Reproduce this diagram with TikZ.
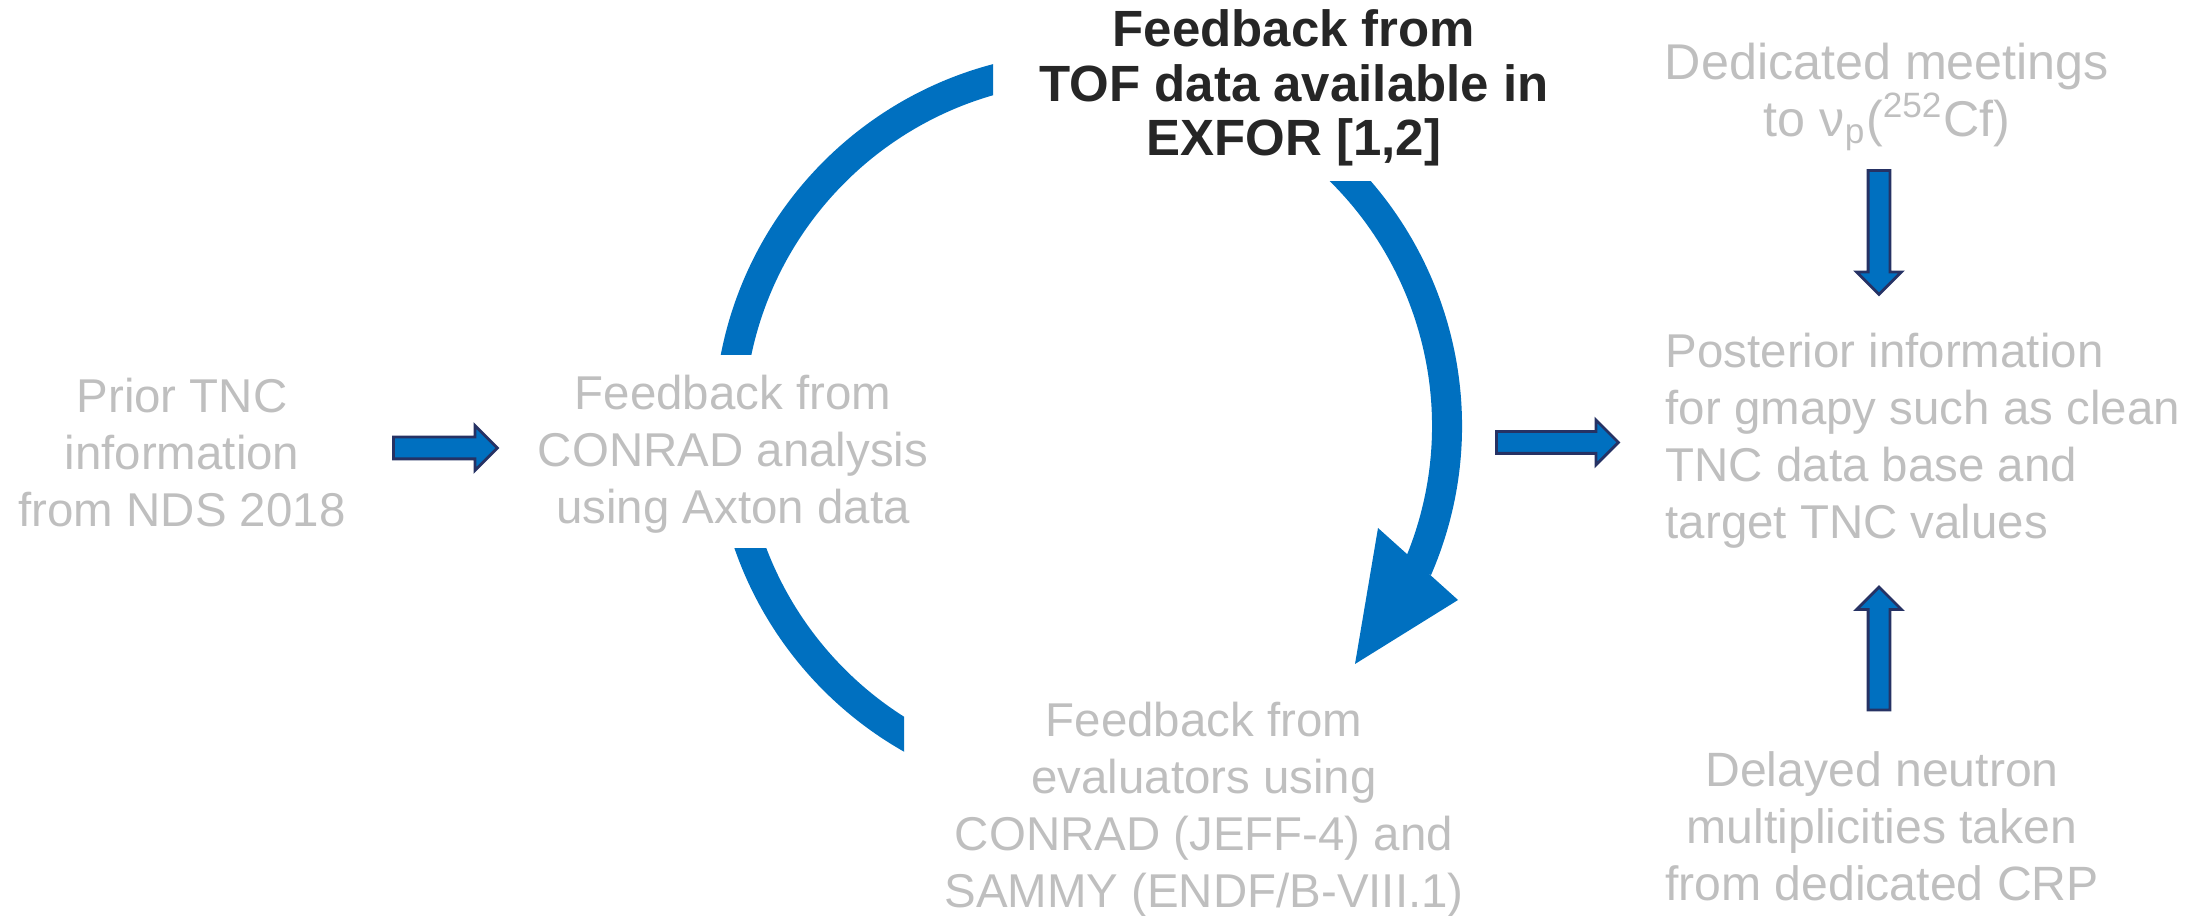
\documentclass[tikz,border=0pt]{standalone}
\usepackage{fontspec}
\setmainfont{Liberation Sans}
\usetikzlibrary{shapes.arrows}
\definecolor{cycleblue}{RGB}{0,112,192}
\definecolor{arrowrim}{RGB}{38,50,100}
\definecolor{faded}{RGB}{191,191,191}
\definecolor{ink}{RGB}{38,38,38}
\tikzset{
  faint/.style={font=\fontsize{13.5}{16.2}\selectfont, text=faded, align=center, inner sep=0pt},
  blockarrow/.style={single arrow, draw=arrowrim, fill=cycleblue, line width=0.8pt,
    inner xsep=0pt, inner ysep=0.095cm, single arrow head extend=0.115cm},
  ring/.style={draw=cycleblue, line width=0.30cm}
}

\begin{document}
\begin{tikzpicture}
  \useasboundingbox (0,0) rectangle (22.06,9.16);
  \coordinate (hub) at (10.88,4.90);

  % text blocks
  \node[faint] (prior) at (1.82,4.635) {Prior TNC\\information\\from NDS 2018};
  \node[faint] (conrad) at (7.33,4.62) {Feedback from\\CONRAD analysis\\using Axton data};
  \node[faint, font=\fontsize{14.5}{15.6}\selectfont\bfseries, text=ink] (tof) at (12.94,8.28)
    {Feedback from\\TOF data available in\\EXFOR [1,2]};
  \node[faint, font=\fontsize{14.3}{16.2}\selectfont] (meet) at (18.87,8.19)
    {Dedicated meetings\\to ν\textsubscript{p}(\textsuperscript{252}Cf)};
  \node[faint, align=left, anchor=west] (post) at (16.65,4.75)
    {Posterior information\\for gmapy such as clean\\TNC data base and\\target TNC values};
  \node[faint, font=\fontsize{13.7}{16.2}\selectfont] (delayed) at (18.82,0.90)
    {Delayed neutron\\multiplicities taken\\from dedicated CRP};
  \node[faint] (evals) at (12.04,1.06)
    {Feedback from\\evaluators using\\CONRAD (JEFF-4) and\\SAMMY (ENDF/B-VIII.1)};

  % block arrows
  \node[blockarrow, minimum height=1.04cm] (toConrad) at (4.40,4.68) {};
  \node[blockarrow, minimum height=1.22cm] (toPost) at (15.52,4.735) {};
  \node[blockarrow, minimum height=1.24cm, rotate=-90] (fromMeet) at (18.79,6.89) {};
  \node[blockarrow, minimum height=1.23cm, rotate=90] (fromDelayed) at (18.79,2.62) {};

  % the cycle
  \begin{scope}
    \clip (0,5.61) rectangle (9.93,9.16);
    \draw[ring] (hub) circle[radius=3.59];
  \end{scope}
  \begin{scope}
    \clip (0,0) rectangle (9.04,3.67);
    \draw[ring] (hub) circle[radius=3.59];
  \end{scope}
  \begin{scope}
    \clip (10.88,0) rectangle (22.06,7.34);
    \draw[ring] (hub) ++(60:3.59) arc[start angle=60, end angle=-23.5, radius=3.59];
  \end{scope}
  \fill[cycleblue] (13.78,3.88) -- (14.58,3.16) -- (13.55,2.52) -- cycle;
\end{tikzpicture}
\end{document}
